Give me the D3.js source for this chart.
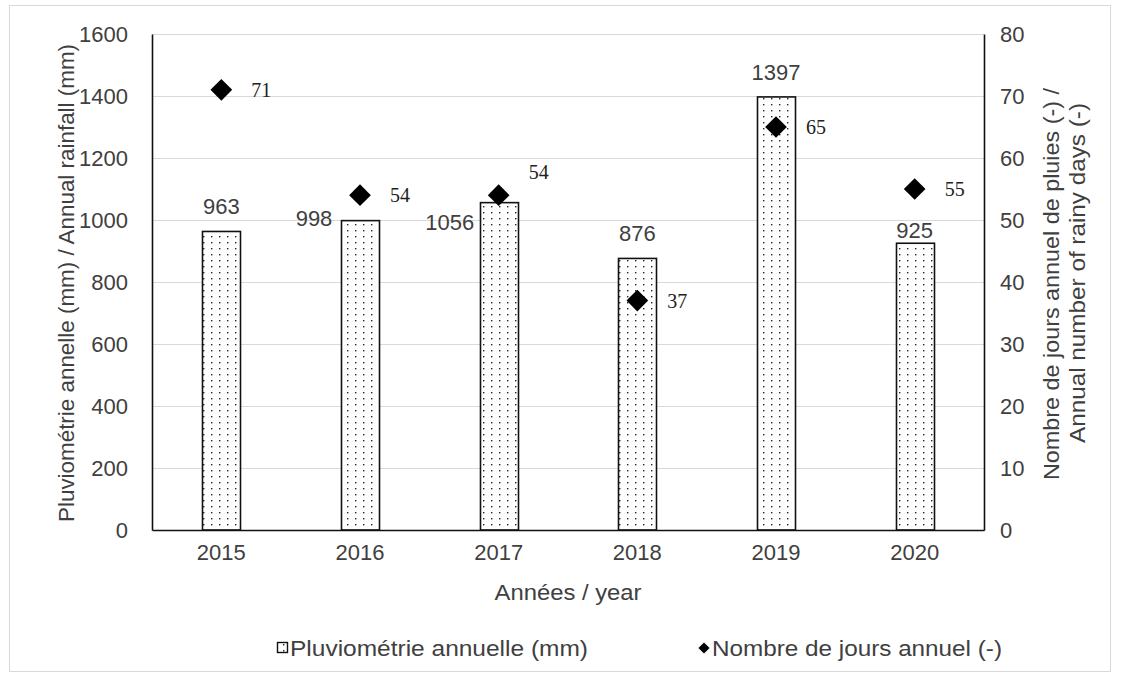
<!DOCTYPE html>
<html>
  <head>
    <meta charset="utf-8" />
    <script src="https://d3js.org/d3.v7.min.js"></script>
    <style>
      body { margin: 0; background: #fff; }
      text { font-family: "Liberation Sans", Arial, sans-serif; fill: #404040; }
      .serif { font-family: "Liberation Serif", "Times New Roman", serif; fill: #222; }
      .grid line { stroke: #d9d9d9; stroke-width: 1px; }
    </style>
  </head>
  <body>
    <svg id="chart" width="1121" height="693"></svg>
    <script>

      // data
      var years = ["2015", "2016", "2017", "2018", "2019", "2020"];
      var rainfall = [963, 998, 1056, 876, 1397, 925];
      var rainyDays = [71, 54, 54, 37, 65, 55];
      var leftTicks = [0, 200, 400, 600, 800, 1000, 1200, 1400, 1600];
      var rightTicks = [0, 10, 20, 30, 40, 50, 60, 70, 80];

      // label nudges (dx, dy) as placed by hand in the original
      var rainLabelShift = [[0, 0], [-46, 22], [-49, 44], [0, 0], [0, 0], [0, 12]];
      var dayLabelShift = [[0, 0], [0, 0], [0, -23], [0, 0], [0, 0], [0, 0]];

      (function() {
        var svg = d3.select("#chart");
        var mLeft = 152, mRight = 984, mTop = 34, mBottom = 530;
        var fs = 22;

        // outer frame
        svg.append("rect")
          .attr("x", 9.5).attr("y", 5.5)
          .attr("width", 1101).attr("height", 666)
          .attr("fill", "#fff").attr("stroke", "#d9d9d9");

        var defs = svg.append("defs");
        var pat = defs.append("pattern")
          .attr("id", "dots")
          .attr("patternUnits", "userSpaceOnUse")
          .attr("width", 8).attr("height", 6);
        pat.append("rect").attr("width", 8).attr("height", 6).attr("fill", "#fff");
        pat.append("rect").attr("x", 3).attr("y", 2).attr("width", 1.4).attr("height", 1.4).attr("fill", "#222");

        var x = d3.scaleBand().domain(years).range([mLeft, mRight]);
        var yL = d3.scaleLinear().domain([0, 1600]).range([mBottom, mTop]);
        var yR = d3.scaleLinear().domain([0, 80]).range([mBottom, mTop]);
        var barW = 38;
        var cx = function(i) { return x(years[i]) + x.bandwidth() / 2; };

        // gridlines
        svg.append("g").attr("class", "grid")
          .selectAll("line").data(leftTicks.slice(1)).enter().append("line")
          .attr("x1", mLeft).attr("x2", mRight)
          .attr("y1", function(d) { return Math.round(yL(d)) + 0.5; })
          .attr("y2", function(d) { return Math.round(yL(d)) + 0.5; });

        // bars
        svg.selectAll(".bar").data(rainfall).enter().append("rect")
          .attr("class", "bar")
          .attr("x", function(d, i) { return Math.round(cx(i) - barW / 2) + 0.5; })
          .attr("y", function(d) { return yL(d); })
          .attr("width", barW)
          .attr("height", function(d) { return mBottom - yL(d); })
          .attr("fill", "url(#dots)")
          .attr("stroke", "#111").attr("stroke-width", 1.6);

        // axes
        var axisL = svg.append("g").attr("transform", "translate(" + mLeft + ",0)")
          .call(d3.axisLeft(yL).tickValues(leftTicks).tickFormat(d3.format("d")).tickSize(0).tickPadding(24));
        var axisR = svg.append("g").attr("transform", "translate(" + mRight + ",0)")
          .call(d3.axisRight(yR).tickValues(rightTicks).tickFormat(d3.format("d")).tickSize(0).tickPadding(16));
        var axisB = svg.append("g").attr("transform", "translate(0," + mBottom + ")")
          .call(d3.axisBottom(x).tickSize(0).tickPadding(14));
        [axisL, axisR, axisB].forEach(function(a) {
          a.select(".domain").attr("stroke", "#111").attr("stroke-width", 1.6);
          a.selectAll("text").attr("font-size", fs).attr("fill", "#404040")
            .attr("font-family", "Liberation Sans, Arial, sans-serif");
        });

        // rainfall labels
        svg.selectAll(".rlab").data(rainfall).enter().append("text")
          .attr("class", "rlab")
          .attr("x", function(d, i) { return cx(i) + rainLabelShift[i][0]; })
          .attr("y", function(d, i) { return yL(d) - 17 + rainLabelShift[i][1]; })
          .attr("text-anchor", "middle")
          .attr("font-size", fs)
          .text(function(d) { return d; });

        // diamonds
        var diamond = d3.symbol().type(d3.symbolDiamond2).size(300);
        svg.selectAll(".pt").data(rainyDays).enter().append("path")
          .attr("class", "pt")
          .attr("transform", function(d, i) { return "translate(" + cx(i) + "," + yR(d) + ")"; })
          .attr("d", diamond)
          .attr("fill", "#000");

        svg.selectAll(".dlab").data(rainyDays).enter().append("text")
          .attr("class", "serif")
          .attr("x", function(d, i) { return cx(i) + 30 + dayLabelShift[i][0]; })
          .attr("y", function(d, i) { return yR(d) + 7 + dayLabelShift[i][1]; })
          .attr("font-size", 20)
          .text(function(d) { return d; });

        // stretched text helper (the original's text is a bit wider than Arial)
        function title(px, py, rot, len, str) {
          return svg.append("text")
            .attr("transform", "translate(" + px + "," + py + ")" + (rot ? " rotate(-90)" : ""))
            .attr("text-anchor", "middle")
            .attr("font-size", fs)
            .attr("textLength", len)
            .attr("lengthAdjust", "spacingAndGlyphs")
            .text(str);
        }

        // axis titles
        title(74, 283, true, 478, "Pluviométrie annelle (mm) / Annual rainfall (mm)");
        title(1059, 284, true, 392, "Nombre de jours annuel de pluies (-) /");
        title(1085, 273, true, 340, "Annual number of rainy days (-)");
        title((mLeft + mRight) / 2, 600, false, 147, "Années / year");

        // legend
        var lg = svg.append("g").attr("transform", "translate(0,648)");
        lg.append("rect").attr("x", 277.5).attr("y", -5.5).attr("width", 10).attr("height", 10)
          .attr("fill", "url(#dots)").attr("stroke", "#111").attr("stroke-width", 1.4);
        lg.append("text").attr("x", 290).attr("y", 8).attr("font-size", fs)
          .attr("textLength", 298).attr("lengthAdjust", "spacingAndGlyphs")
          .text("Pluviométrie annuelle (mm)");
        lg.append("path").attr("transform", "translate(704,0)")
          .attr("d", d3.symbol().type(d3.symbolDiamond2).size(80)).attr("fill", "#000");
        lg.append("text").attr("x", 712).attr("y", 8).attr("font-size", fs)
          .attr("textLength", 290).attr("lengthAdjust", "spacingAndGlyphs")
          .text("Nombre de jours annuel (-)");
      })();

    </script>
  </body>
</html>
